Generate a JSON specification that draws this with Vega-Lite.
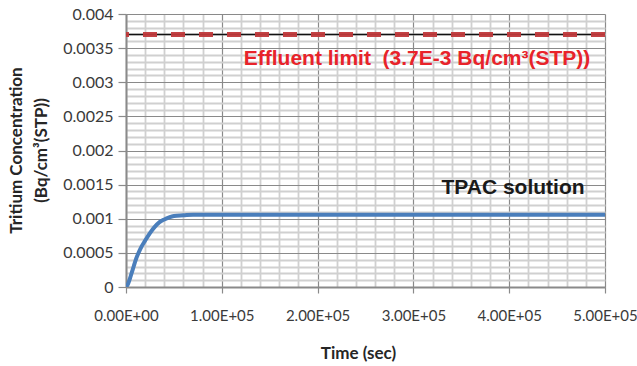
{
  "$schema": "https://vega.github.io/schema/vega-lite/v6.json",
  "width": 479,
  "height": 273,
  "autosize": {"type": "none"},
  "padding": {"left": 126, "top": 14, "right": 32, "bottom": 79},
  "background": "white",
  "config": {
    "view": {"stroke": null},
    "font": "Lato"
  },
  "datasets": {
    "curve": [
      {"t": 0, "c": 0},
      {"t": 2000, "c": 0.00004},
      {"t": 4000, "c": 0.00012},
      {"t": 6000, "c": 0.00021},
      {"t": 8000, "c": 0.0003},
      {"t": 10000, "c": 0.00039},
      {"t": 15000, "c": 0.00056},
      {"t": 20000, "c": 0.00068},
      {"t": 25000, "c": 0.00079},
      {"t": 30000, "c": 0.00088},
      {"t": 35000, "c": 0.00095},
      {"t": 40000, "c": 0.00099},
      {"t": 45000, "c": 0.00102},
      {"t": 50000, "c": 0.00104},
      {"t": 60000, "c": 0.00105},
      {"t": 70000, "c": 0.00106},
      {"t": 80000, "c": 0.00106},
      {"t": 100000, "c": 0.00106},
      {"t": 200000, "c": 0.00106},
      {"t": 300000, "c": 0.00106},
      {"t": 400000, "c": 0.00106},
      {"t": 500000, "c": 0.00106}
    ],
    "limit": [{"limit": 0.0037}],
    "labels": [
      {"t": 303800, "c": 0.00334, "text": "Effluent limit\u00a0 (3.7E-3 Bq/cm³(STP))", "kind": "limit"},
      {"t": 404000, "c": 0.00145, "text": "TPAC solution", "kind": "series"}
    ]
  },
  "layer": [
    {
      "data": {"name": "curve"},
      "mark": {"type": "line", "color": "#4A7EBB", "strokeWidth": 4, "interpolate": "monotone", "clip": true},
      "encoding": {
        "x": {
          "field": "t", "type": "quantitative",
          "scale": {"domain": [0, 500000], "nice": false, "zero": true},
          "axis": {
            "values": [0,20000,40000,60000,80000,100000,120000,140000,160000,180000,200000,220000,240000,260000,280000,300000,320000,340000,360000,380000,400000,420000,440000,460000,480000,500000],
            "tickCount": 200,
            "grid": true,
            "gridColor": {"condition": {"test": "datum.value % 100000 === 0", "value": "#8a8a8a"}, "value": "#d0d0d0"},
            "gridWidth": {"condition": {"test": "datum.value % 100000 === 0", "value": 1.2}, "value": 1.8},
            "tickColor": {"condition": {"test": "datum.value % 100000 === 0", "value": "#8a8a8a"}, "value": "transparent"},
            "tickSize": 6,
            "tickWidth": 1.2,
            "domainColor": "#8a8a8a",
            "domainWidth": 2,
            "labelExpr": "datum.value % 100000 === 0 ? (datum.value === 0 ? '0.00E+00' : replace(upper(format(datum.value, '.2e')), 'E+', 'E+0')) : ''",
            "labelFont": "Lato",
            "labelFontSize": 15,
            "labelColor": "#3a3a3a",
            "labelPadding": 15,
            "labelFlush": false,
            "labelOverlap": false,
            "title": "Time (sec)",
            "titleFont": "Lato",
            "titleFontSize": 17,
            "titleFontWeight": "bold",
            "titleColor": "#262626",
            "titleX": 232,
            "titleY": 58
          }
        },
        "y": {
          "field": "c", "type": "quantitative",
          "scale": {"domain": [0, 0.004], "nice": false},
          "axis": {
            "values": [0,0.0001,0.0002,0.0003,0.0004,0.0005,0.0006,0.0007,0.0008,0.0009,0.001,0.0011,0.0012,0.0013,0.0014,0.0015,0.0016,0.0017,0.0018,0.0019,0.002,0.0021,0.0022,0.0023,0.0024,0.0025,0.0026,0.0027,0.0028,0.0029,0.003,0.0031,0.0032,0.0033,0.0034,0.0035,0.0036,0.0037,0.0038,0.0039,0.004],
            "tickCount": 200,
            "grid": true,
            "gridColor": {"condition": {"test": "abs(datum.value*2000 - round(datum.value*2000)) < 0.000001", "value": "#8a8a8a"}, "value": "#d0d0d0"},
            "gridWidth": {"condition": {"test": "abs(datum.value*2000 - round(datum.value*2000)) < 0.000001", "value": 1.2}, "value": 1.8},
            "tickColor": {"condition": {"test": "abs(datum.value*2000 - round(datum.value*2000)) < 0.000001", "value": "#8a8a8a"}, "value": "transparent"},
            "tickSize": 8,
            "tickWidth": 1.2,
            "domainColor": "#8a8a8a",
            "domainWidth": 2,
            "labelExpr": "abs(datum.value*2000 - round(datum.value*2000)) < 0.000001 ? format(datum.value, '~g') : ''",
            "labelFont": "Lato",
            "labelFontSize": 16,
            "labelColor": "#3a3a3a",
            "labelPadding": 5,
            "labelFlush": false,
            "labelOverlap": false,
            "title": ["Tritium Concentration", "(Bq/cm³(STP))"],
            "titleFont": "Lato",
            "titleFontSize": 17,
            "titleFontWeight": "bold",
            "titleColor": "#262626",
            "titleLineHeight": 25,
            "titleAngle": -90,
            "titleX": -101,
            "titleY": 136
          }
        }
      }
    },
    {
      "data": {"name": "limit"},
      "mark": {"type": "rule", "color": "#111111", "strokeWidth": 1.5},
      "encoding": {"y": {"field": "limit", "type": "quantitative"}}
    },
    {
      "data": {"name": "limit"},
      "mark": {"type": "rule", "color": "#C0393B", "strokeWidth": 5, "strokeDash": [14, 14], "opacity": 0.95},
      "encoding": {"y": {"field": "limit", "type": "quantitative"}}
    },
    {
      "data": {"name": "labels"},
      "mark": {"type": "text", "font": "Liberation Sans", "fontSize": 21, "fontWeight": "bold", "align": "center", "baseline": "middle"},
      "encoding": {
        "x": {"field": "t", "type": "quantitative"},
        "y": {"field": "c", "type": "quantitative"},
        "text": {"field": "text"},
        "color": {"field": "kind", "type": "nominal", "scale": {"domain": ["limit", "series"], "range": ["#E8232A", "#1a1a1a"]}, "legend": null}
      }
    }
  ]
}
